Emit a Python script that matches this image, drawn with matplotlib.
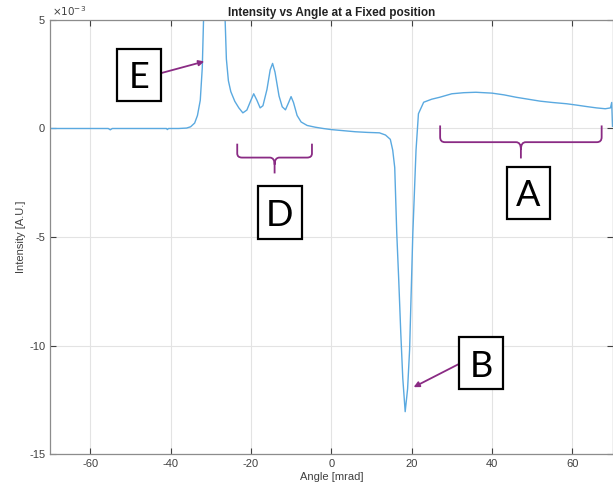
import matplotlib
matplotlib.use("Agg")
import matplotlib.pyplot as plt
from matplotlib.path import Path
from matplotlib.patches import PathPatch, Rectangle
from matplotlib.ticker import FuncFormatter

# angle in mrad, intensity in A.U. (in units of 1e-3)
angle = [-70, -60, -55.5, -55, -54.5, -50, -45, -41, -40.8, -40.5, -38, -36,
         -35, -34, -33.3, -32.6, -32.1, -31.7, -31.2, -30, -28, -27, -26.5,
         -26.1, -25.6, -25, -24, -23, -22, -21, -20, -19.3, -18.5, -17.7,
         -17, -16, -15.2, -14.6, -14, -13, -12.2, -11.4, -10.6, -10, -9.4,
         -8.5, -7.5, -6, -4, -2, 0, 3, 6, 9, 12, 13.5, 14.7, 15.3, 15.8,
         16.3, 16.8, 17.3, 17.8, 18.4, 19, 19.5, 20.3, 21.1, 21.7, 23, 25,
         27, 30, 33, 36, 40, 43, 46, 49, 52, 55, 58.6, 61, 63.6, 66, 68.2,
         69.5, 69.8, 70]
intensity = [0, 0, 0, -0.06, 0, 0, 0, 0, -0.05, 0, 0, 0.02,
             0.08, 0.25, 0.6, 1.3, 2.8, 5.6, 8.5, 11, 10, 8, 5.5,
             3.2, 2.2, 1.7, 1.25, 0.95, 0.72, 0.85, 1.3, 1.6, 1.3, 0.95,
             1.05, 1.8, 2.7, 3.0, 2.6, 1.5, 1.0, 0.86, 1.2, 1.47, 1.2,
             0.6, 0.3, 0.14, 0.06, 0.0, -0.05, -0.1, -0.15, -0.18, -0.2, -0.3, -0.5, -1.0, -1.8,
             -4.8, -7.0, -9.4, -11.5, -13.05, -12.0, -10.2, -4.85, -1.0, 0.68, 1.21, 1.35,
             1.44, 1.6, 1.65, 1.67, 1.63, 1.55, 1.44, 1.35, 1.26, 1.2, 1.14, 1.08, 1.01, 0.95, 0.91,
             0.95, 1.2, 0.1]
intensity = [v * 1e-3 for v in intensity]

x_ticks = [-60, -40, -20, 0, 20, 40, 60]
y_ticks = [-15e-3, -10e-3, -5e-3, 0, 5e-3]

purple = "#8a2b84"
grey = "#404040"

plt.rcParams["font.family"] = ["Liberation Sans", "DejaVu Sans"]
plt.rcParams["axes.unicode_minus"] = False

fig = plt.figure(figsize=(6.13, 4.90), dpi=100)
ax = fig.add_axes([50 / 613, 36 / 490, 562.5 / 613, 434 / 490])

ax.plot(angle, intensity, color="#5aa9e0", lw=1.0)
ax.set_xlim(-70, 70)
ax.set_ylim(-15e-3, 5e-3)
ax.set_xticks(x_ticks)
ax.set_yticks(y_ticks)
ax.yaxis.set_major_formatter(FuncFormatter(lambda v, p: f"{v * 1e3:g}"))
ax.text(0.003, 1.005, r"$\times10^{-3}$", transform=ax.transAxes,
        fontsize=7.5, color=grey, ha="left", va="bottom")

ax.grid(True, color="#e3e3e3", lw=0.8)
ax.tick_params(direction="in", length=4, labelsize=8, colors=grey,
               top=True, right=True, width=0.8)
for sp in ax.spines.values():
    sp.set_color("#8c8c8c")
    sp.set_linewidth(0.9)

ax.set_title("Intensity vs Angle at a Fixed position", fontsize=8.5,
             fontweight="bold", color="#222222", pad=3)
ax.set_xlabel("Angle [mrad]", fontsize=8, color=grey, labelpad=2)
ax.set_ylabel("Intensity [A.U.]", fontsize=8, color=grey, labelpad=2)

box_w = 10.9      # mrad  (~44 px)
box_h = 2.4e-3    # A.U.  (~52 px)


def letter(x, y, s):
    ax.add_patch(Rectangle((x - box_w / 2, y - box_h / 2), box_w, box_h,
                           fc="white", ec="black", lw=1.6, zorder=5, clip_on=False))
    ax.text(x, y, s, fontsize=26, ha="center", va="center_baseline",
            color="black", family="Lato", zorder=6)


def brace(x0, x1, ytop, yh, ytip):
    xc = (x0 + x1) / 2
    r = 1.2
    ry = (ytop - yh) * 0.3
    verts = [(x0, ytop), (x0, yh + ry), (x0, yh), (x0 + r, yh),
             (xc - r, yh), (xc, yh), (xc, yh - (yh - ytip) * 0.45), (xc, ytip),
             (xc, yh - (yh - ytip) * 0.45), (xc, yh), (xc + r, yh),
             (x1 - r, yh), (x1, yh), (x1, yh + ry), (x1, ytop)]
    codes = [Path.MOVETO, Path.LINETO, Path.CURVE3, Path.CURVE3,
             Path.LINETO, Path.CURVE3, Path.CURVE3, Path.LINETO,
             Path.MOVETO, Path.CURVE3, Path.CURVE3,
             Path.LINETO, Path.CURVE3, Path.CURVE3, Path.LINETO]
    ax.add_patch(PathPatch(Path(verts, codes), fc="none", ec=purple, lw=1.3,
                           clip_on=False, zorder=4))


letter(-47.9, 2.48e-3, "E")
ax.annotate("", xy=(-31.6, 3.09e-3), xytext=(-42.4, 2.55e-3),
            arrowprops=dict(arrowstyle="-|>", color=purple, lw=1.3,
                            mutation_scale=8, shrinkA=0, shrinkB=0))

brace(-23.4, -4.8, -0.7e-3, -1.34e-3, -2.07e-3)
letter(-12.8, -3.87e-3, "D")

brace(27.1, 67.3, 0.14e-3, -0.63e-3, -1.38e-3)
letter(49.1, -2.97e-3, "A")

letter(37.3, -10.82e-3, "B")
ax.annotate("", xy=(20.5, -11.92e-3), xytext=(31.9, -10.84e-3),
            arrowprops=dict(arrowstyle="-|>", color=purple, lw=1.3,
                            mutation_scale=8, shrinkA=0, shrinkB=0))

fig.savefig("out.png", dpi=100)
